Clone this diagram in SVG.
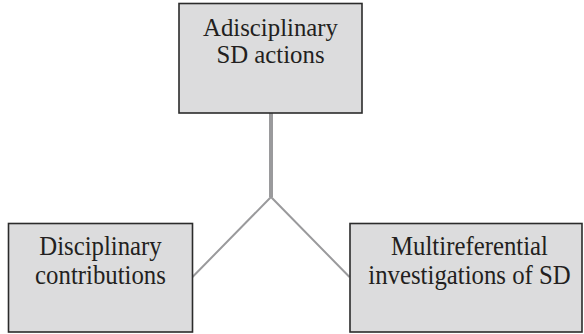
<svg xmlns="http://www.w3.org/2000/svg" width="584" height="334" viewBox="0 0 584 334">
<style>
.box{fill:#dcdcdd;stroke:#2b2b2b;stroke-width:1.6}
.t{font-family:"Liberation Serif","Times New Roman",serif;font-size:24.8px;fill:#231f20;text-anchor:middle}
.c{stroke:#9a9a9c;fill:none}
</style>
<rect width="584" height="334" fill="#ffffff"/>
<g id="connectors">
<line class="c" x1="271" y1="113" x2="271" y2="197" stroke-width="4"/>
<polyline class="c" points="192.5,277 271,197 349.5,277" stroke-width="2"/>
</g>
<g id="node-adisciplinary">
<rect class="box" x="179" y="3.5" width="183" height="109.5"/>
<text class="t" x="270.5" y="36">Adisciplinary</text>
<text class="t" x="270.5" y="63">SD actions</text>
</g>
<g id="node-disciplinary">
<rect class="box" x="8.5" y="223.5" width="184" height="108.5"/>
<text class="t" transform="translate(100.5,255) scale(1,1.08)">Disciplinary</text>
<text class="t" transform="translate(100.5,284) scale(1,1.08)">contributions</text>
</g>
<g id="node-multireferential">
<rect class="box" x="350" y="223.5" width="232" height="108.5"/>
<text class="t" transform="translate(469.5,255) scale(1,1.08)">Multireferential</text>
<text class="t" transform="translate(469.5,284) scale(1,1.08)">investigations of SD</text>
</g>
</svg>
